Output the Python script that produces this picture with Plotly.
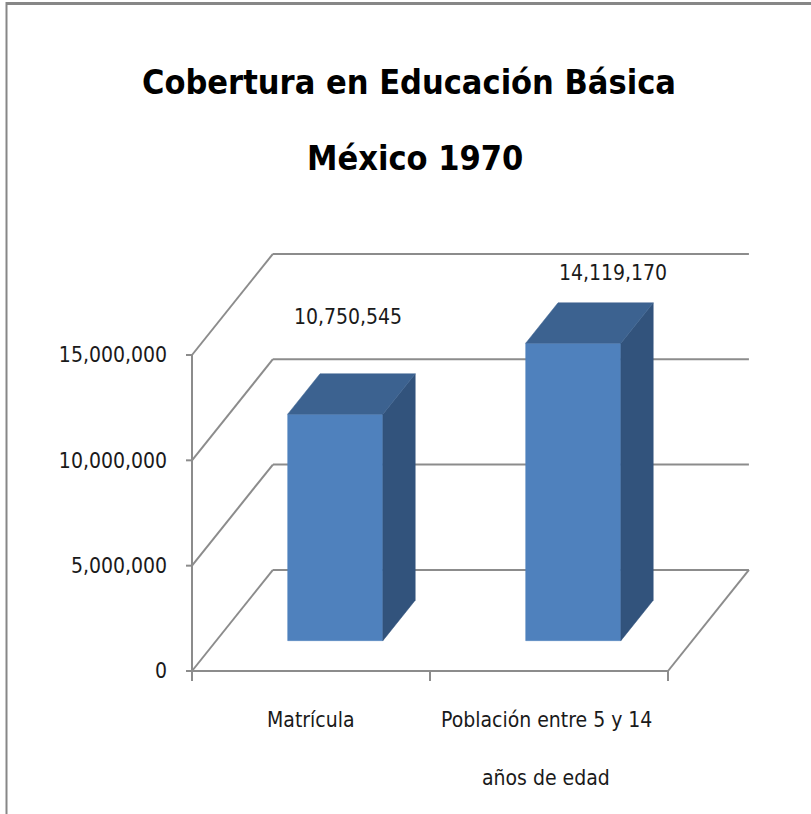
import plotly.graph_objects as go

# ---- data -------------------------------------------------------------
categories = ["Matrícula", "Población entre 5 y 14<br>años de edad"]
values = [10750545, 14119170]
y_ticks = [0, 5000000, 10000000, 15000000]
y_tick_labels = ["0", "5,000,000", "10,000,000", "15,000,000"]
title_lines = ["Cobertura en Educación Básica", "México 1970"]

# ---- page / scale setup --------------------------------------------------
W, H = 811, 814
FONT = "Liberation Sans Narrow, Arial Narrow, DejaVu Sans Condensed, sans-serif"
TEXT_SIZE = 21
TITLE_SIZE = 34

# pixel anchors of the front plane: x=0 / x=n_cat, y=0 / y=15M
X0_PX, X_UNIT_PX = 192, 238.0
Y0_PX, Y_UNIT_PX = 671, 316.0 / 15e6

M_L, M_R, M_T, M_B = 178, 48, 250, 130
x_range = [(M_L - X0_PX) / X_UNIT_PX, (W - M_R - X0_PX) / X_UNIT_PX]
y_range = [-(H - M_B - Y0_PX) / Y_UNIT_PX, (Y0_PX - M_T) / Y_UNIT_PX]

# oblique depth of the 3-D box, in data units
DX = 0.34
DY = 4.8e6
BAR_W = 0.4           # bar width in category units
F0, F1 = 0.3, 0.7     # front/back depth of the bars (fraction of DX, DY)

GRID = "#8c8c8c"
FRONT, TOP, SIDE = "#4f81bd", "#3c6290", "#32537c"


def paper_x(px):
    return (px - M_L) / (W - M_L - M_R)


def paper_y(py):
    return (H - M_B - py) / (H - M_T - M_B)


n = len(categories)
shapes = []


def line(x0, y0, x1, y1, color=GRID, width=2, **kw):
    shapes.append(dict(type="line", xref="x", yref="y", x0=x0, y0=y0,
                       x1=x1, y1=y1, line=dict(color=color, width=width),
                       layer="below", **kw))


# walls and floor
for v in y_ticks:
    line(DX, v + DY, n + DX, v + DY)          # back wall gridline
    line(0, v, DX, v + DY)                    # side wall diagonal
line(n, 0, n + DX, DY)                        # floor right edge
line(0, 0, n, 0)                              # category axis line
line(0, 0, 0, y_ticks[-1])                    # value axis line
for v in y_ticks:
    shapes.append(dict(type="line", xref="x", yref="y", xsizemode="pixel",
                       xanchor=0, x0=-6, x1=0, y0=v, y1=v,
                       line=dict(color=GRID, width=2), layer="below"))
for i in range(n + 1):
    shapes.append(dict(type="line", xref="x", yref="y", ysizemode="pixel",
                       yanchor=0, y0=-10, y1=0, x0=i, x1=i,
                       line=dict(color=GRID, width=2), layer="below"))

# outer frame
shapes.append(dict(type="line", xref="paper", yref="paper",
                   x0=paper_x(6), x1=paper_x(W), y0=paper_y(3.5), y1=paper_y(3.5),
                   line=dict(color="#878787", width=3)))
shapes.append(dict(type="line", xref="paper", yref="paper",
                   x0=paper_x(6.5), x1=paper_x(6.5), y0=paper_y(2), y1=paper_y(H),
                   line=dict(color="#878787", width=2)))

fig = go.Figure()

# bars: front, side and top faces
for i, v in enumerate(values):
    c = i + 0.5
    xl = c - BAR_W / 2 + F0 * DX
    xr = c + BAR_W / 2 + F0 * DX
    yb = F0 * DY
    yt = v + F0 * DY
    ddx = (F1 - F0) * DX
    ddy = (F1 - F0) * DY
    faces = [
        (FRONT, [xl, xr, xr, xl, xl], [yb, yb, yt, yt, yb]),
        (SIDE, [xr, xr + ddx, xr + ddx, xr, xr],
         [yb, yb + ddy, yt + ddy, yt, yb]),
        (TOP, [xl, xr, xr + ddx, xl + ddx, xl],
         [yt, yt, yt + ddy, yt + ddy, yt]),
    ]
    for color, xs, ys in faces:
        fig.add_trace(go.Scatter(x=xs, y=ys, mode="lines", fill="toself",
                                 fillcolor=color, line=dict(color=color, width=0.5),
                                 hoverinfo="skip", showlegend=False))

annotations = []
# value labels above the bars
label_shift = [(-3, 77), (24, 50)]
for i, v in enumerate(values):
    dxs, dys = label_shift[i]
    annotations.append(dict(x=i + 0.5 + 0.5 * DX, y=v + 0.5 * DY, xref="x", yref="y",
                            text=f"{v:,}", showarrow=False, xshift=dxs, yshift=dys,
                            font=dict(family=FONT, size=TEXT_SIZE, color="#1a1a1a")))

# category labels
for i, cat in enumerate(categories):
    for j, part in enumerate(cat.split("<br>")):
        annotations.append(dict(x=i + 0.5, y=0, xref="x", yref="y", text=part,
                                showarrow=False, xshift=-3 * i, yshift=-49 - 58 * j,
                                font=dict(family=FONT, size=TEXT_SIZE, color="#1a1a1a")))

# title
for txt, (cx, cy) in zip(title_lines, [(409, 82), (415, 158)]):
    annotations.append(dict(x=paper_x(cx), y=paper_y(cy), xref="paper", yref="paper",
                            text=f"<b>{txt}</b>", showarrow=False,
                            xanchor="center", yanchor="middle",
                            font=dict(family=FONT, size=TITLE_SIZE, color="#000000")))

fig.update_layout(
    width=W, height=H,
    margin=dict(l=M_L, r=M_R, t=M_T, b=M_B, pad=0),
    paper_bgcolor="white", plot_bgcolor="white",
    showlegend=False,
    shapes=shapes,
    annotations=annotations,
    xaxis=dict(range=x_range, showgrid=False, zeroline=False, showline=False,
               showticklabels=False, ticks="", fixedrange=True),
    yaxis=dict(range=y_range, showgrid=False, zeroline=False, showline=False,
               tickmode="array", tickvals=y_ticks, ticktext=y_tick_labels,
               ticks="", ticklabelstandoff=10,
               tickfont=dict(family=FONT, size=TEXT_SIZE, color="#1a1a1a"),
               fixedrange=True),
)

fig.write_html("out.html")
